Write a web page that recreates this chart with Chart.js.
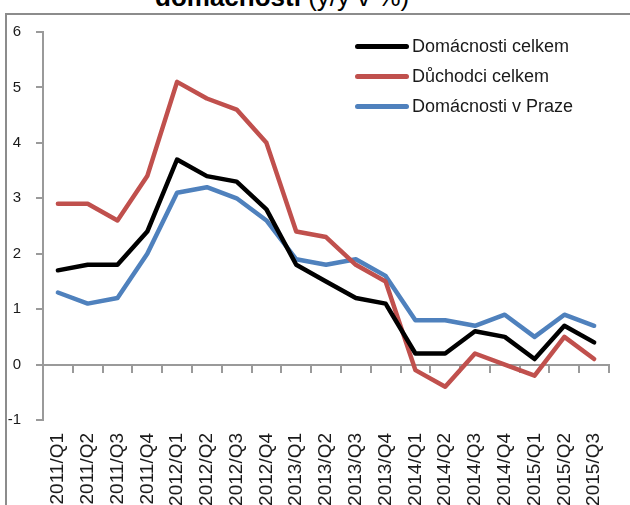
<!DOCTYPE html>
<html>
<head>
<meta charset="utf-8">
<script src="https://cdn.jsdelivr.net/npm/chart.js@4.4.1/dist/chart.umd.min.js"></script>
<style>
  html, body { margin: 0; padding: 0; background: #fff; }
  body { width: 630px; height: 505px; position: relative; overflow: hidden; font-family: "Liberation Sans", Arial, sans-serif; }
  .frame { position: absolute; left: 5px; top: 13px; width: 700px; height: 600px; border: 2px solid #8c8c8c; box-sizing: border-box; }
  .title { position: absolute; left: 155px; top: -16px; font-size: 26px; line-height: 26px; color: #000; white-space: nowrap; }
  .title b { font-weight: bold; }
  #wrap { position: absolute; left: 0; top: 0; width: 630px; height: 505px; }
  #c { display: block; width: 630px; height: 505px; }
  .legend { position: absolute; left: 355px; top: 31px; font-size: 18px; color: #1a1a1a; }
  .legend div { height: 30px; display: flex; align-items: center; white-space: nowrap; }
  .legend span.ln { display: inline-block; width: 54px; height: 5px; border-radius: 3px; margin-right: 3px; }
</style>
</head>
<body>
<div class="frame"></div>
<div class="title"><b>domácností</b> (y/y v %)</div>
<div id="wrap"><canvas id="c" width="630" height="505"></canvas></div>
<div class="legend" id="legend"></div>
<script>
// data
const quarters = ["2011/Q1","2011/Q2","2011/Q3","2011/Q4","2012/Q1","2012/Q2","2012/Q3","2012/Q4",
  "2013/Q1","2013/Q2","2013/Q3","2013/Q4","2014/Q1","2014/Q2","2014/Q3","2014/Q4","2015/Q1","2015/Q2","2015/Q3"];
const domacnostiCelkem = [1.7, 1.8, 1.8, 2.4, 3.7, 3.4, 3.3, 2.8, 1.8, 1.5, 1.2, 1.1, 0.2, 0.2, 0.6, 0.5, 0.1, 0.7, 0.4];
const duchodciCelkem   = [2.9, 2.9, 2.6, 3.4, 5.1, 4.8, 4.6, 4.0, 2.4, 2.3, 1.8, 1.5, -0.1, -0.4, 0.2, 0.0, -0.2, 0.5, 0.1];
const domacnostiPraha  = [1.3, 1.1, 1.2, 2.0, 3.1, 3.2, 3.0, 2.6, 1.9, 1.8, 1.9, 1.6, 0.8, 0.8, 0.7, 0.9, 0.5, 0.9, 0.7];
const seriesNames = ["Domácnosti celkem", "Důchodci celkem", "Domácnosti v Praze"];
const seriesColors = ["#000000", "#c0504d", "#4f81bd"];
const yMin = -1, yMax = 6, yStep = 1;

const axisGrey = "#9a9a9a";

const mk = (i, data) => ({
  label: seriesNames[i],
  data: data,
  borderColor: seriesColors[i],
  backgroundColor: seriesColors[i],
  borderWidth: 4.5,
  pointRadius: 0,
  tension: 0,
  borderJoinStyle: "round",
  borderCapStyle: "round",
  xAxisID: "x"
});

const chart = new Chart(document.getElementById("c"), {
  type: "line",
  data: {
    labels: quarters,
    datasets: [mk(0, domacnostiCelkem), mk(1, duchodciCelkem), mk(2, domacnostiPraha)]
  },
  options: {
    responsive: false,
    maintainAspectRatio: false,
    animation: false,
    devicePixelRatio: 1,
    layout: { padding: { left: 0, right: 2, top: 32, bottom: 0 } },
    plugins: { legend: { display: false }, tooltip: { enabled: false } },
    scales: {
      x: {
        type: "category",
        position: "bottom",
        offset: true,
        border: { display: false },
        grid: { display: false, drawTicks: false },
        ticks: {
          autoSkip: false, minRotation: 90, maxRotation: 90, padding: 13,
          color: "#1a1a1a", font: { family: "Liberation Sans", size: 19 }
        },
        afterFit: s => { s.height = 85; }
      },
      // zero line with its category ticks
      x0: {
        type: "category",
        labels: quarters,
        position: { y: 0 },
        offset: true,
        border: { display: true, color: axisGrey, width: 2 },
        grid: { offset: true, drawOnChartArea: false, drawTicks: true, tickLength: 7, color: axisGrey, lineWidth: 2 },
        ticks: { display: false }
      },
      y: {
        min: yMin, max: yMax,
        border: { display: true, color: axisGrey, width: 2 },
        grid: { drawOnChartArea: false, drawTicks: true, tickLength: 7, color: axisGrey, lineWidth: 2 },
        ticks: { stepSize: yStep, padding: 15, color: "#1a1a1a", font: { family: "Liberation Sans", size: 15 } },
        afterFit: s => { s.width = 43; }
      }
    }
  }
});

// legend as text next to line swatches
const lg = document.getElementById("legend");
seriesNames.forEach((n, i) => {
  const row = document.createElement("div");
  row.innerHTML = '<span class="ln" style="background:' + seriesColors[i] + '"></span>' + n;
  lg.appendChild(row);
});
</script>
</body>
</html>
